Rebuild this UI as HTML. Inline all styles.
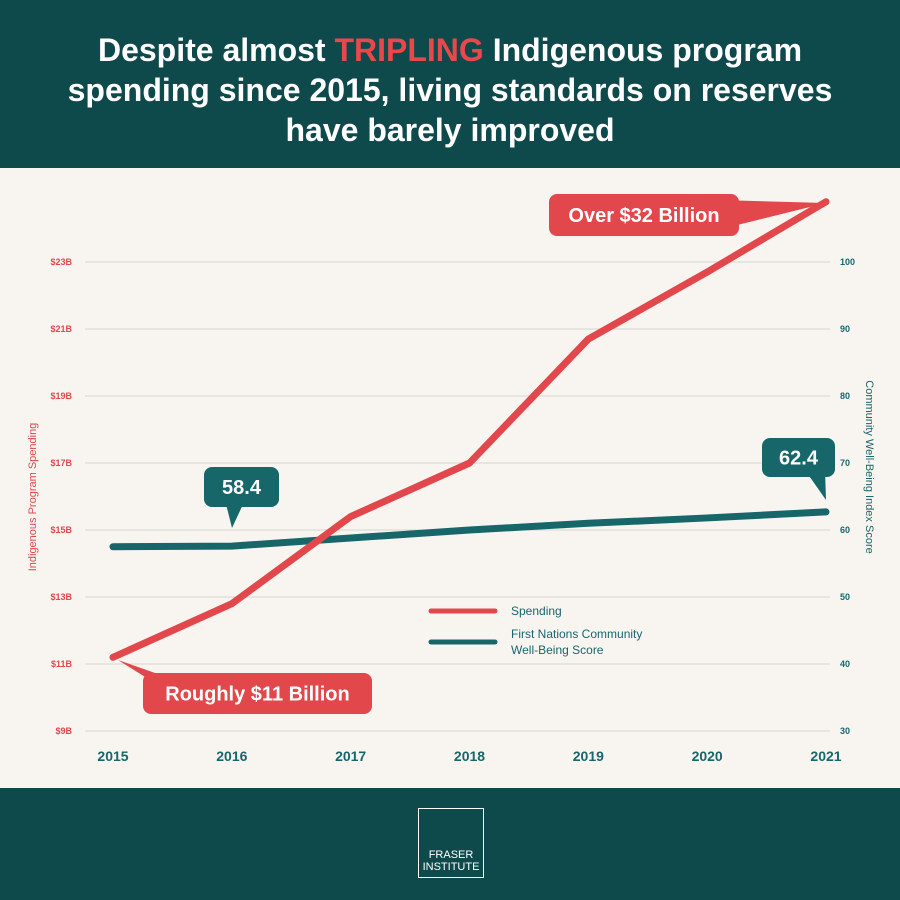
<!DOCTYPE html>
<html><head><meta charset="utf-8"><style>
body{margin:0;width:900px;height:900px;overflow:hidden;font-family:"Liberation Sans",sans-serif;background:#f8f5f1}
</style></head><body>
<div style="position:absolute;left:0;top:0;width:900px;height:168px;background:#0e4a4b;color:#fff;text-align:center;font-weight:bold;font-size:32px;line-height:40px;padding-top:30px;box-sizing:border-box">
<span>Despite almost <span style="color:#e8474b">TRIPLING</span> Indigenous program<br>spending since 2015, living standards on reserves<br>have barely improved</span></div>
<div style="position:absolute;left:0;top:788px;width:900px;height:112px;background:#0e4a4b">
<div style="position:absolute;left:418px;top:20px;width:66px;height:70px;border:1px solid #fff;box-sizing:border-box;color:#fff;font-size:11px;text-align:center;padding-top:40px;line-height:12px">FRASER<br>INSTITUTE</div></div>
<svg id="chart" width="900" height="620" style="position:absolute;left:0;top:168px"></svg>
<script>
const years=[2015,2016,2017,2018,2019,2020,2021];
const spending=[11.2,12.8,15.4,17.0,20.7,22.7,24.8];
const cwb=[57.5,57.6,58.8,60.0,61.0,61.8,62.7];
const leftTicks=[9,11,13,15,17,19,21,23];
const rightTicks=[30,40,50,60,70,80,90,100];
const OY=168;
const svg=document.getElementById('chart');const NS='http://www.w3.org/2000/svg';
function x(i){return 113+i*(826-113)/6}
function yL(v){return 731-OY-(v-9)*33.5}
function yR(v){return 731-OY-(v-30)*6.7}
function el(t,a,txt){const e=document.createElementNS(NS,t);for(const k in a)e.setAttribute(k,a[k]);if(txt!==undefined)e.textContent=txt;svg.appendChild(e);return e}
leftTicks.forEach((v,i)=>{
 const g=el('line',{x1:85,x2:830,y1:yL(v),y2:yL(v),stroke:'#d5d5d0','stroke-width':1});
 
 const t=el('text',{x:72,y:yL(v)+3,'text-anchor':'end','font-size':9,'font-weight':'bold',fill:'#e2474b'},'$'+v+'B');
 
});
rightTicks.forEach(v=>{
 const t=el('text',{x:840,y:yR(v)+3,'font-size':9,'font-weight':'bold',fill:'#17666a'},v);
 
});
years.forEach((v,i)=>{
 const t=el('text',{x:x(i),y:755-OY+6,'text-anchor':'middle','font-size':14,'font-weight':'bold',fill:'#17666a'},v);
 
});
let a=el('text',{transform:`translate(36,${497-OY}) rotate(-90)`,'text-anchor':'middle','font-size':11,fill:'#e2474b'},'Indigenous Program Spending');

a=el('text',{transform:`translate(866,${467-OY}) rotate(90)`,'text-anchor':'middle','font-size':11,fill:'#17666a'},'Community Well-Being Index Score');

let p=el('polyline',{points:cwb.map((v,i)=>x(i)+','+yR(v)).join(' '),fill:'none',stroke:'#17666a','stroke-width':7,'stroke-linecap':'round','stroke-linejoin':'round'});

p=el('polyline',{points:spending.map((v,i)=>x(i)+','+yL(v)).join(' '),fill:'none',stroke:'#e2474b','stroke-width':7,'stroke-linecap':'round','stroke-linejoin':'round'});

a=el('line',{x1:431,x2:495,y1:611-OY,y2:611-OY,stroke:'#e2474b','stroke-width':5,'stroke-linecap':'round'});
a=el('text',{x:511,y:615-OY,'font-size':12,fill:'#17666a'},'Spending');
a=el('line',{x1:431,x2:495,y1:642-OY,y2:642-OY,stroke:'#17666a','stroke-width':5,'stroke-linecap':'round'});
a=el('text',{x:511,y:638-OY,'font-size':12,fill:'#17666a'},'First Nations Community');
el('text',{x:511,y:654-OY,'font-size':12,fill:'#17666a'},'Well-Being Score');
function callout(name,bx,by,w,h,tri,fill,txt,fs){
 const g=el('polygon',{points:tri.map(q=>q[0]+','+(q[1]-OY)).join(' '),fill});
 
 const r=el('rect',{x:bx,y:by-OY,width:w,height:h,rx:8,fill});
 
 const t=el('text',{x:bx+w/2,y:by-OY+h/2+fs*0.36,'text-anchor':'middle','font-size':fs,'font-weight':'bold',fill:'#fff'},txt);
 
}
callout('callout-32b',549,194,190,42,[[720,200],[826,203],[725,228]],'#e2474b','Over $32 Billion',20);
callout('callout-11b',143,673,229,41,[[150,680],[118,660],[175,680]],'#e2474b','Roughly $11 Billion',20);
callout('callout-58',204,467,75,40,[[225,500],[232,528],[245,500]],'#17666a','58.4',20);
callout('callout-62',762,438,73,39,[[805,470],[826,500],[825,470]],'#17666a','62.4',20);
</script>
</body></html>
